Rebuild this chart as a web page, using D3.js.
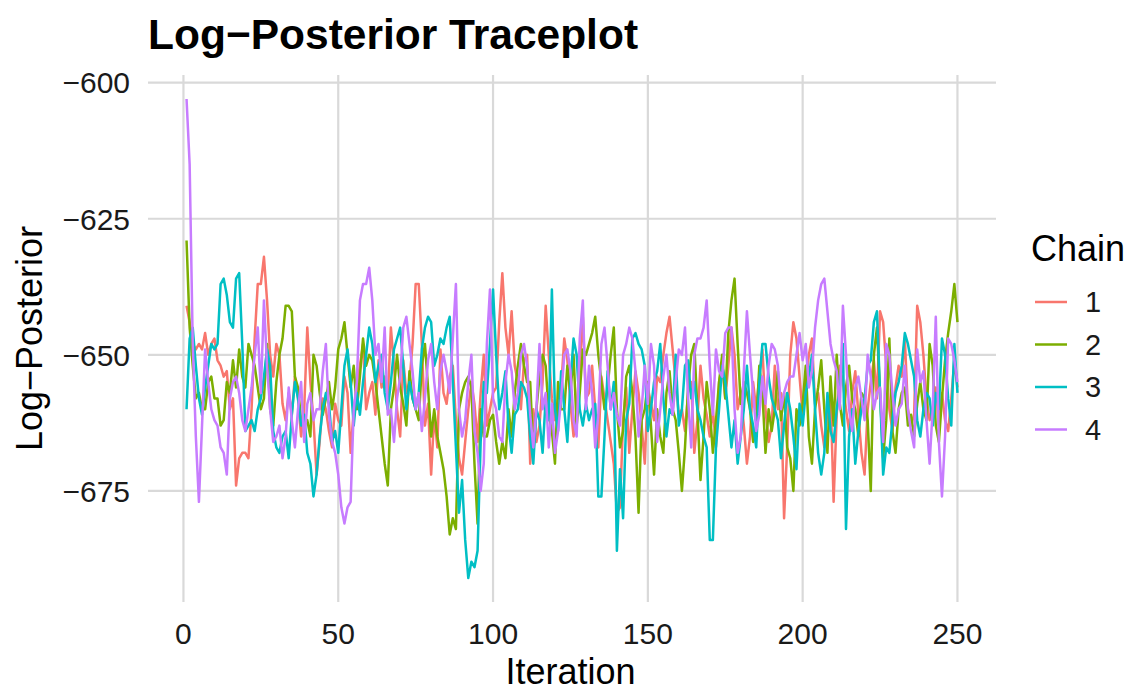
<!DOCTYPE html>
<html><head><meta charset="utf-8">
<script src="https://cdn.jsdelivr.net/npm/d3@7"></script>
<style>body{margin:0;background:#fff;}svg{display:block;font-family:"Liberation Sans",Arial,sans-serif;}</style>
</head><body><svg id="c" width="1135" height="692"></svg>
<script>
const chainNames = ["1","2","3","4"];
const chainColors = ["#F8766D","#7CAE00","#00BFC4","#C77CFF"];
const xTicks = [0,50,100,150,200,250];
const yTicks = [-600,-625,-650,-675];

const chain1 = [-641,-644,-648,-649,-648,-649,-646,-650,-648,-647,
-651,-652,-654,-653,-660,-658,-674,-669,-668,-668,
-669,-660,-647,-637,-637,-632,-640,-650,-654,-648,
-650,-659,-662,-657,-661,-654,-658,-665,-660,-645,
-655,-662,-672,-666,-658,-660,-664,-667,-659,-662,
-663,-654,-657,-668,-660,-656,-652,-648,-660,-657,
-655,-661,-651,-656,-654,-658,-645,-652,-660,-665,
-651,-657,-655,-648,-637,-637,-648,-663,-659,-672,
-661,-667,-649,-657,-659,-654,-652,-662,-669,-672,
-666,-660,-655,-659,-666,-657,-650,-663,-660,-657,
-656,-644,-635,-645,-650,-642,-652,-655,-660,-651,
-650,-670,-660,-666,-663,-655,-641,-650,-658,-662,
-661,-656,-647,-651,-659,-665,-660,-652,-643,-658,
-657,-652,-660,-667,-654,-658,-662,-666,-670,-679,
-678,-662,-656,-668,-660,-653,-657,-663,-670,-656,
-659,-662,-654,-655,-650,-646,-643,-649,-655,-661,
-660,-664,-657,-655,-668,-662,-652,-658,-661,-665,
-660,-667,-655,-652,-658,-652,-645,-650,-660,-657,
-663,-670,-665,-655,-660,-654,-649,-660,-666,-663,
-652,-660,-657,-680,-667,-650,-644,-647,-654,-661,
-656,-650,-647,-659,-657,-663,-667,-660,-657,-677,
-661,-652,-655,-660,-664,-657,-653,-661,-668,-672,
-660,-655,-651,-658,-642,-644,-652,-660,-664,-656,
-652,-654,-647,-660,-663,-661,-641,-644,-650,-658,
-662,-660,-656,-663,-657,-662,-664,-658,-651,-656];

const chain2 = [-629,-645,-652,-658,-657,-660,-660,-655,-654,-658,
-658,-663,-662,-655,-657,-651,-656,-649,-654,-656,
-648,-650,-652,-656,-660,-658,-648,-660,-663,-655,
-650,-647,-641,-641,-642,-654,-656,-662,-663,-662,
-665,-650,-652,-657,-661,-658,-655,-660,-656,-649,
-647,-644,-650,-656,-652,-660,-654,-647,-652,-650,
-651,-655,-660,-665,-670,-674,-660,-656,-650,-656,
-659,-663,-653,-658,-660,-662,-652,-648,-656,-665,
-660,-665,-668,-671,-676,-683,-680,-682,-660,-657,
-655,-654,-656,-670,-681,-660,-665,-665,-662,-661,
-666,-670,-666,-669,-660,-665,-657,-652,-648,-652,
-655,-655,-668,-660,-654,-650,-652,-661,-664,-670,
-655,-660,-660,-652,-657,-650,-663,-657,-649,-650,
-648,-646,-643,-650,-655,-660,-656,-650,-645,-660,
-667,-664,-654,-652,-657,-665,-679,-662,-660,-655,
-663,-672,-660,-665,-668,-657,-653,-660,-662,-668,
-675,-667,-656,-650,-648,-660,-673,-665,-655,-660,
-668,-662,-655,-650,-658,-646,-640,-636,-648,-659,
-655,-657,-660,-666,-663,-652,-657,-668,-660,-664,
-660,-653,-662,-657,-667,-669,-675,-660,-663,-659,
-652,-665,-670,-660,-656,-651,-660,-668,-654,-663,
-650,-659,-663,-656,-652,-658,-660,-665,-657,-658,
-662,-675,-650,-645,-657,-669,-662,-647,-664,-668,
-660,-657,-656,-663,-661,-665,-659,-655,-660,-662,
-648,-652,-663,-666,-658,-651,-646,-642,-637,-644];

const chain3 = [-660,-647,-645,-652,-658,-661,-656,-652,-648,-649,
-648,-637,-636,-639,-644,-645,-636,-635,-648,-664,
-663,-662,-664,-660,-658,-654,-649,-652,-664,-667,
-668,-665,-664,-669,-661,-655,-658,-663,-661,-668,
-670,-676,-672,-665,-660,-657,-659,-666,-664,-668,
-660,-652,-649,-655,-663,-657,-661,-655,-650,-645,
-648,-655,-652,-650,-657,-660,-655,-649,-647,-645,
-652,-660,-655,-658,-660,-657,-649,-645,-643,-644,
-652,-650,-647,-648,-645,-643,-655,-667,-679,-673,
-684,-691,-688,-689,-686,-666,-655,-657,-648,-638,
-650,-660,-657,-653,-663,-668,-661,-660,-655,-656,
-658,-665,-670,-660,-662,-668,-658,-662,-638,-660,
-664,-653,-660,-666,-655,-647,-650,-660,-663,-659,
-662,-660,-659,-676,-676,-665,-653,-660,-655,-686,
-671,-680,-662,-659,-647,-646,-648,-649,-652,-664,
-660,-655,-653,-648,-658,-665,-660,-661,-650,-663,
-660,-652,-651,-658,-655,-660,-662,-665,-667,-684,
-684,-667,-660,-652,-655,-661,-667,-662,-670,-665,
-660,-652,-660,-663,-667,-655,-648,-648,-654,-658,
-660,-662,-669,-663,-657,-660,-665,-671,-659,-663,
-657,-654,-650,-660,-668,-672,-668,-657,-664,-666,
-660,-656,-648,-682,-665,-660,-670,-664,-660,-658,
-652,-651,-644,-642,-657,-672,-667,-668,-662,-657,
-655,-652,-646,-648,-651,-654,-662,-665,-660,-657,
-658,-663,-657,-660,-647,-650,-658,-663,-648,-657];

const chain4 = [-603,-615,-648,-665,-677,-663,-649,-655,-660,-662,
-663,-667,-668,-672,-658,-655,-654,-657,-662,-664,
-660,-656,-650,-645,-657,-640,-652,-660,-666,-665,
-663,-669,-665,-656,-662,-667,-660,-655,-666,-659,
-657,-662,-660,-660,-653,-648,-661,-666,-668,-672,
-678,-681,-678,-677,-660,-655,-640,-637,-637,-634,
-640,-650,-648,-655,-645,-661,-660,-666,-658,-654,
-645,-643,-648,-653,-660,-657,-664,-658,-651,-648,
-655,-660,-653,-650,-653,-657,-647,-637,-660,-665,
-662,-655,-650,-664,-668,-675,-670,-648,-638,-658,
-660,-665,-666,-655,-650,-653,-660,-657,-650,-648,
-652,-661,-667,-660,-648,-660,-657,-667,-659,-668,
-664,-658,-650,-649,-653,-662,-665,-647,-640,-660,
-652,-657,-667,-661,-648,-645,-652,-660,-657,-661,
-663,-650,-648,-645,-647,-653,-665,-660,-652,-659,
-648,-652,-666,-660,-654,-650,-657,-661,-655,-649,
-650,-645,-658,-667,-650,-647,-647,-645,-640,-652,
-661,-649,-653,-654,-646,-645,-645,-660,-668,-665,
-653,-642,-650,-657,-664,-661,-654,-659,-652,-648,
-649,-652,-660,-657,-655,-654,-654,-650,-646,-651,
-648,-656,-653,-645,-640,-637,-636,-642,-648,-651,
-653,-660,-641,-650,-660,-664,-656,-654,-658,-662,
-650,-654,-660,-657,-656,-666,-648,-650,-657,-663,
-660,-659,-652,-660,-664,-667,-649,-655,-653,-662,
-670,-660,-643,-666,-676,-665,-647,-648,-651,-655];

const chains = [chain1, chain2, chain3, chain4];

const svg = d3.select("#c");
const panel = {left:148, right:996, top:75, bottom:602};
const x = d3.scaleLinear().domain([-11.45, 262.45]).range([panel.left, panel.right]);
const y = d3.scaleLinear().domain([-598.6, -695.4]).range([panel.top, panel.bottom]);

const g = svg.append("g");
g.selectAll(".vg").data(xTicks).join("line")
  .attr("x1", d=>x(d)).attr("x2", d=>x(d)).attr("y1", panel.top).attr("y2", panel.bottom)
  .attr("stroke", "#d9d9d9").attr("stroke-width", 2.2);
g.selectAll(".hg").data(yTicks).join("line")
  .attr("x1", panel.left).attr("x2", panel.right).attr("y1", d=>y(d)).attr("y2", d=>y(d))
  .attr("stroke", "#d9d9d9").attr("stroke-width", 2.2);

const line = d3.line().x((d,i)=>x(i+1)).y(d=>y(d));
chains.forEach((c,k)=>{
  svg.append("path").datum(c).attr("d", line).attr("fill","none")
    .attr("stroke", chainColors[k]).attr("stroke-width", 2.5).attr("stroke-linejoin","round");
});

const fmt = d => d < 0 ? "\u2212" + Math.abs(d) : String(d);
svg.selectAll(".yt").data(yTicks).join("text")
  .attr("x", 130).attr("y", d=>y(d)).attr("dy","0.36em").attr("text-anchor","end")
  .attr("font-size", 30).attr("fill","#1a1a1a").text(fmt);
svg.selectAll(".xt").data(xTicks).join("text")
  .attr("x", d=>x(d)).attr("y", 644).attr("text-anchor","middle")
  .attr("font-size", 30).attr("fill","#1a1a1a").text(fmt);

svg.append("text").attr("x", x(125)).attr("y", 684).attr("text-anchor","middle")
  .attr("font-size", 36).attr("fill","#000").text("Iteration");
svg.append("text").attr("transform", `translate(42,${(panel.top+panel.bottom)/2}) rotate(-90)`)
  .attr("text-anchor","middle").attr("font-size", 36).attr("fill","#000").text("Log\u2212Posterior");

svg.append("text").attr("x", 148).attr("y", 49).attr("font-size", 42.5).attr("font-weight","bold")
  .attr("fill","#000").text("Log\u2212Posterior Traceplot");

const lg = svg.append("g");
lg.append("text").attr("x", 1031).attr("y", 261).attr("font-size", 36).attr("fill","#000").text("Chain");
chainNames.forEach((n,k)=>{
  const yy = 302 + k*42.5;
  lg.append("line").attr("x1", 1035).attr("x2", 1067).attr("y1", yy).attr("y2", yy)
    .attr("stroke", chainColors[k]).attr("stroke-width", 2.5);
  lg.append("text").attr("x", 1085).attr("y", yy).attr("dy","0.36em").attr("font-size", 29)
    .attr("fill","#1a1a1a").text(n);
});
</script></body></html>
